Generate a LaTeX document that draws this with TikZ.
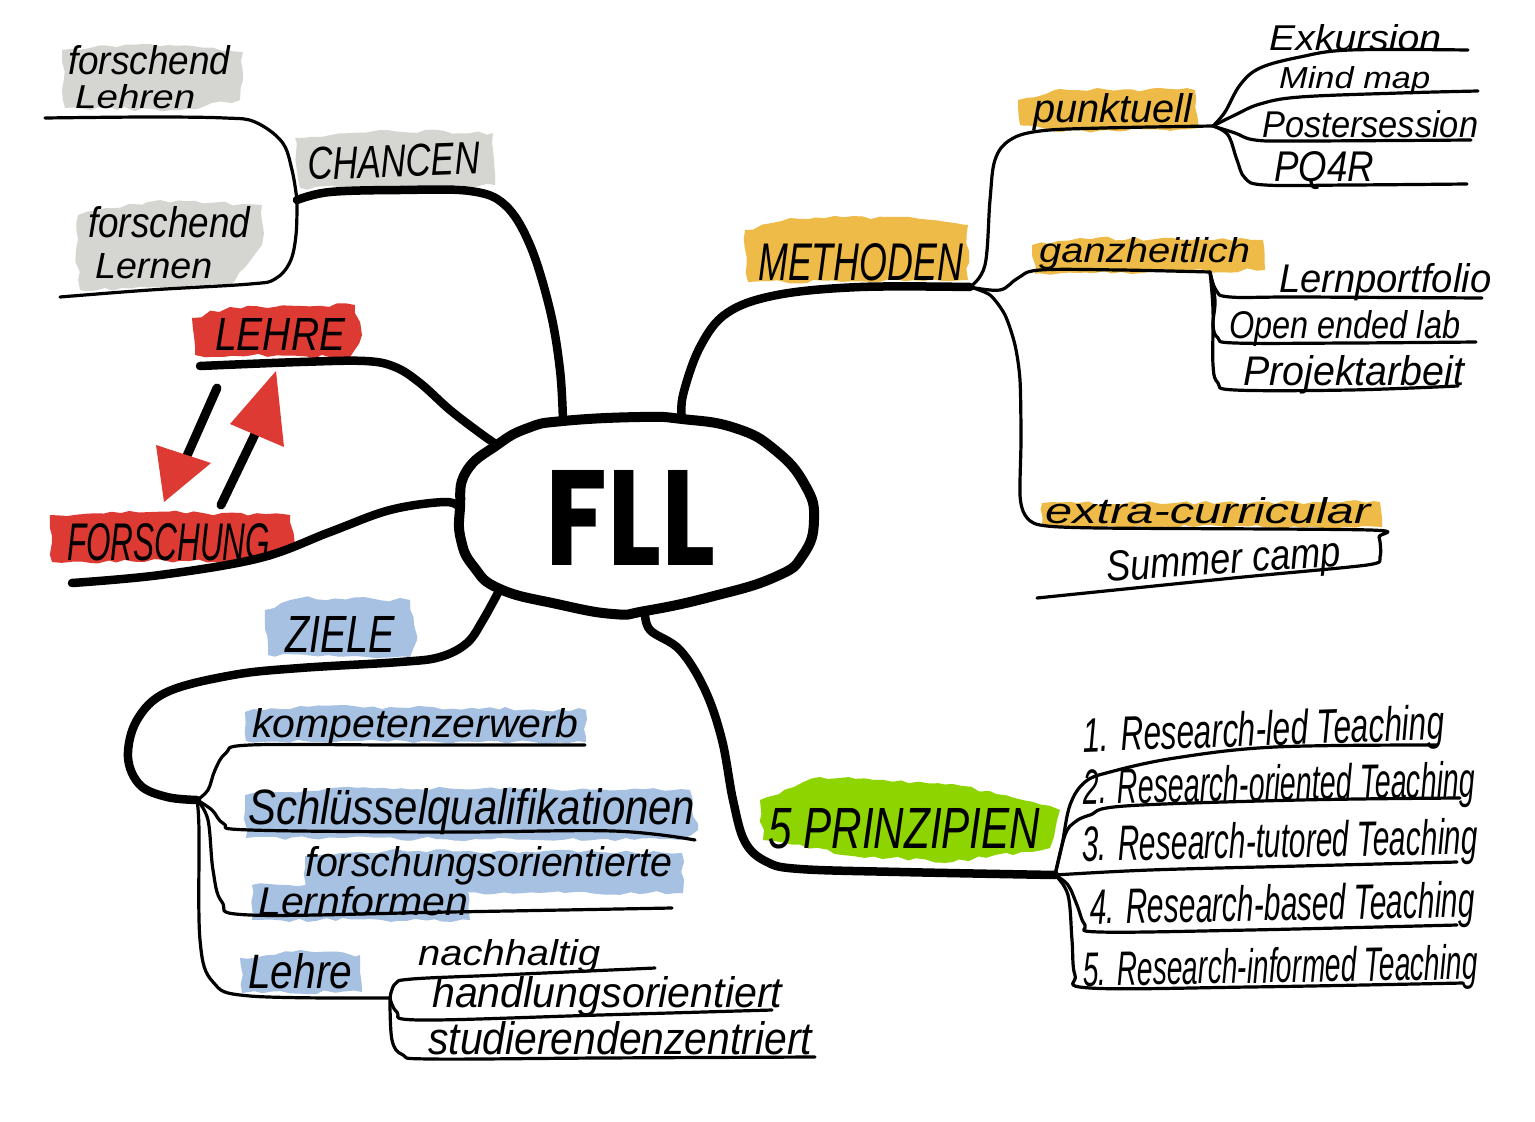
\documentclass[tikz,border=0pt]{standalone}
\usepackage{fontspec}
\usepackage{graphicx}
\setmainfont{Liberation Sans}
\newfontfamily\fllfont{Poppins}
\usetikzlibrary{decorations.pathmorphing}
\definecolor{hlgray}{HTML}{D5D5D1}
\definecolor{hlred}{HTML}{DD3A33}
\definecolor{hlyellow}{HTML}{EEBB48}
\definecolor{hlblue}{HTML}{A6C1E2}
\definecolor{hlgreen}{HTML}{8ED400}
\newcommand\hw[3]{\resizebox{#1pt}{#2pt}{\itshape #3}}
\begin{document}
\begin{tikzpicture}[x=1pt,y=-1pt,
  mainline/.style={line width=8.5pt,line cap=round,line join=round},
  subline/.style={line width=3.2pt,line cap=round,line join=round},
  txt/.style={anchor=base west,inner sep=0pt},
  blobshape/.style={decorate,decoration={random steps,segment length=9pt,amplitude=2pt}},
  ]
\pgfmathsetseed{7}
\useasboundingbox (0,0) rectangle (1535,1122);
\fill[white] (0,0) rectangle (1535,1122);

% ---------- highlight blobs ----------
\fill[hlgray,blobshape] (62,50) -- (150,44) -- (243,52) -- (240,100) -- (180,110) -- (65,108) -- cycle;
\fill[hlgray,blobshape] (295,138) -- (380,130) -- (493,133) -- (495,185) -- (300,188) -- cycle;
\fill[hlgray,blobshape] (78,215) -- (160,200) -- (262,205) -- (262,245) -- (230,285) -- (80,290) -- (76,250) -- cycle;
\fill[hlred,blobshape] (192,318) -- (230,307) -- (355,305) -- (362,335) -- (350,357) -- (195,355) -- cycle;
\fill[hlred,blobshape] (50,515) -- (150,512) -- (290,515) -- (295,545) -- (270,560) -- (52,562) -- cycle;
\fill[hlyellow,blobshape] (745,230) -- (790,218) -- (900,217) -- (968,225) -- (968,280) -- (748,282) -- cycle;
\fill[hlyellow,blobshape] (1018,100) -- (1060,89) -- (1195,90) -- (1199,128) -- (1060,132) -- (1020,125) -- cycle;
\fill[hlyellow,blobshape] (1032,245) -- (1080,238) -- (1263,240) -- (1265,270) -- (1035,274) -- cycle;
\fill[hlyellow,blobshape] (1042,503) -- (1380,502) -- (1382,527) -- (1042,527) -- cycle;
\fill[hlblue,blobshape] (265,610) -- (300,598) -- (410,600) -- (417,640) -- (410,657) -- (268,655) -- cycle;
\fill[hlblue,blobshape] (245,712) -- (300,706) -- (586,710) -- (586,742) -- (246,741) -- cycle;
\fill[hlblue,blobshape] (245,795) -- (330,788) -- (690,790) -- (698,830) -- (680,840) -- (246,838) -- cycle;
\fill[hlblue,blobshape] (305,856) -- (400,850) -- (682,853) -- (683,893) -- (305,893) -- cycle;
\fill[hlblue,blobshape] (252,885) -- (470,882) -- (470,920) -- (252,920) -- cycle;
\fill[hlblue,blobshape] (240,958) -- (300,950) -- (360,955) -- (362,992) -- (242,993) -- cycle;
\fill[hlgreen,blobshape] (760,800) -- (820,777) -- (953,784) -- (1060,810) -- (1050,848) -- (953,862) -- (853,856) -- (763,840) -- cycle;

% ---------- centre ----------
\coordinate (cFo) at (460,508);
\coordinate (cLe) at (497,445);
\coordinate (cCh) at (563,421);
\coordinate (cMe) at (682,419);
\coordinate (cPr) at (645,611);
\coordinate (cZi) at (500,589);
\draw[line width=10pt] plot[smooth cycle,tension=0.8] coordinates {
 (cFo) (466,472) (cLe) (528,428) (cCh) (640,417) (cMe) (735,428) (775,450)
 (805,485) (814,520) (803,555) (775,577) (710,597) (cPr) (613,614) (557,604)
 (cZi) (474,567) (461,540)};
\node[txt] (fll) at (545,565) {\resizebox{170pt}{95pt}{\fllfont\bfseries FLL}};

% ---------- hubs ----------
\coordinate (hubCh) at (297,200);
\coordinate (hubZi) at (197,800);
\coordinate (hubLe) at (390,998);
\coordinate (hubPr) at (1055,875);
\coordinate (hubMe) at (970,287);
\coordinate (hubPu) at (1213,126);
\coordinate (hubGa) at (1210,272);

% ---------- CHANCEN ----------
\draw[mainline] plot[smooth,tension=0.6] coordinates {(cCh) (560,370) (550,310) (530,245) (505,205) (470,191) (400,190) (330,192) (hubCh)};
\draw[subline] plot[smooth,tension=0.6] coordinates {(hubCh) (292,170) (282,142) (255,122) (225,118) (150,117) (45,118)};
\draw[subline] plot[smooth,tension=0.6] coordinates {(hubCh) (296,235) (290,262) (275,279) (250,284) (150,290) (60,297)};
\node[txt] (tFL1) at (68,74) {\hw{162}{29}{forschend}};
\node[txt] (tFL2) at (75,108) {\hw{120}{24}{Lehren}};
\node[txt,rotate=2] (tCh) at (308,180) {\hw{172}{32}{CHANCEN}};
\node[txt] (tFN1) at (88,237) {\hw{162}{31}{forschend}};
\node[txt] (tFN2) at (95,278) {\hw{117}{25}{Lernen}};

% ---------- LEHRE / FORSCHUNG ----------
\draw[mainline] plot[smooth,tension=0.6] coordinates {(cLe) (480,433) (450,410) (420,383) (395,367) (365,361) (300,362) (200,366)};
\draw[mainline] plot[smooth,tension=0.6] coordinates {(cFo) (445,502) (390,510) (330,532) (260,558) (160,575) (72,583)};
\node[txt] (tLe) at (215,350) {\hw{130}{32}{LEHRE}};
\node[txt] (tFo) at (67,560) {\hw{203}{37}{FORSCHUNG}};
\coordinate (a1s) at (217,388);
\coordinate (a1e) at (186,458);
\coordinate (a2s) at (221,505);
\coordinate (a2e) at (258,428);
\draw[line width=9pt,line cap=round] (a1s) -- (a1e);
\draw[line width=9pt,line cap=round] (a2s) -- (a2e);
\fill[hlred] (156,445) -- (211,463) -- (164,502) -- cycle;
\fill[hlred] (276,371) -- (230,424) -- (284,447) -- cycle;

% ---------- ZIELE ----------
\draw[mainline] plot[smooth,tension=0.6] coordinates {(cZi) (483,620) (467,643) (440,657) (400,662) (300,668) (233,675) (167,692) (137,720) (128,757) (140,785) (167,797) (hubZi)};
\draw[subline] plot[smooth,tension=0.6] coordinates {(hubZi) (208,790) (215,770) (226,753) (250,745) (400,745) (585,745)};
\draw[subline] plot[smooth,tension=0.6] coordinates {(hubZi) (212,810) (224,824) (250,830) (450,832) (613,831) (695,840)};
\draw[subline] plot[smooth,tension=0.6] coordinates {(hubZi) (208,820) (213,870) (222,902) (250,915) (450,912) (672,908)};
\draw[subline] plot[smooth,tension=0.6] coordinates {(hubZi) (199,830) (200,940) (213,982) (250,996) (hubLe)};
\draw[subline] plot[smooth,tension=0.6] coordinates {(hubLe) (395,984) (412,979) (500,975) (655,968)};
\draw[subline] plot[smooth,tension=0.6] coordinates {(hubLe) (397,1012) (420,1020) (600,1015) (772,1010)};
\draw[subline] plot[smooth,tension=0.6] coordinates {(hubLe) (392,1040) (403,1055) (430,1059) (600,1058) (815,1057)};
\node[txt] (tZi) at (285,652) {\hw{110}{36}{ZIELE}};
\node[txt] (tKo) at (252,737) {\hw{326}{29}{kompetenzerwerb}};
\node[txt] (tSc) at (248,824) {\hw{447}{36}{Schlüsselqualifikationen}};
\node[txt] (tFs) at (305,876) {\hw{367}{30}{forschungsorientierte}};
\node[txt] (tLf) at (258,915) {\hw{210}{29}{Lernformen}};
\node[txt] (tLh) at (248,988) {\hw{104}{35}{Lehre}};
\node[txt] (tNa) at (418,965) {\hw{182}{26}{nachhaltig}};
\node[txt] (tHa) at (432,1007) {\hw{350}{31}{handlungsorientiert}};
\node[txt] (tSt) at (428,1054) {\hw{384}{33}{studierendenzentriert}};

% ---------- 5 PRINZIPIEN ----------
\draw[mainline] plot[smooth,tension=0.6] coordinates {(cPr) (650,630) (680,650) (705,690) (722,740) (733,800) (745,842) (767,862) (800,869) (900,872) (hubPr)};
\draw[subline] plot[smooth,tension=0.6] coordinates {(hubPr) (1062,845) (1070,805) (1085,782) (1110,772) (1175,758) (1275,747) (1437,745)};
\draw[subline] plot[smooth,tension=0.6] coordinates {(hubPr) (1065,835) (1075,822) (1090,815) (1125,806) (1300,800) (1460,798)};
\draw[subline] plot[smooth,tension=0.6] coordinates {(hubPr) (1150,870) (1300,866) (1457,862)};
\draw[subline] plot[smooth,tension=0.6] coordinates {(hubPr) (1068,885) (1077,905) (1085,925) (1100,932) (1250,930) (1457,925)};
\draw[subline] plot[smooth,tension=0.6] coordinates {(hubPr) (1068,895) (1072,940) (1075,975) (1090,988) (1250,987) (1463,983)};
\node[txt] (tPr) at (768,848) {\hw{272}{40}{5 PRINZIPIEN}};
\node[txt,rotate=2] (tP1) at (1083,752) {\hw{362}{35}{1. Research-led Teaching}};
\node[txt,rotate=1] (tP2) at (1083,804) {\hw{392}{36}{2. Research-oriented Teaching}};
\node[txt,rotate=1] (tP3) at (1082,861) {\hw{396}{36}{3. Research-tutored Teaching}};
\node[txt,rotate=1] (tP4) at (1090,924) {\hw{385}{36}{4. Research-based Teaching}};
\node[txt,rotate=1] (tP5) at (1083,986) {\hw{395}{35}{5. Research-informed Teaching}};

% ---------- METHODEN ----------
\draw[mainline] plot[smooth,tension=0.6] coordinates {(cMe) (683,395) (700,347) (727,313) (777,295) (860,287) (hubMe)};
\draw[subline] plot[smooth,tension=0.6] coordinates {(hubMe) (985,265) (990,200) (995,160) (1010,140) (1040,131) (1103,128) (hubPu)};
\draw[subline] plot[smooth,tension=0.6] coordinates {(hubPu) (1225,112) (1240,85) (1260,68) (1300,57) (1350,50) (1468,50)};
\draw[subline] plot[smooth,tension=0.6] coordinates {(hubPu) (1235,115) (1260,104) (1300,97) (1400,93) (1478,91)};
\draw[subline] plot[smooth,tension=0.6] coordinates {(hubPu) (1235,133) (1255,140) (1300,141) (1471,140)};
\draw[subline] plot[smooth,tension=0.6] coordinates {(hubPu) (1228,135) (1237,160) (1245,178) (1265,185) (1350,185) (1467,184)};
\draw[subline] plot[smooth,tension=0.6] coordinates {(hubMe) (1000,290) (1018,278) (1040,270) (1120,270) (hubGa)};
\draw[subline] plot[smooth,tension=0.6] coordinates {(hubGa) (1216,290) (1230,297) (1300,297) (1482,298)};
\draw[subline] plot[smooth,tension=0.6] coordinates {(hubGa) (1215,300) (1213,325) (1218,338) (1235,343) (1350,343) (1476,342)};
\draw[subline] plot[smooth,tension=0.6] coordinates {(hubGa) (1213,310) (1213,365) (1218,383) (1235,390) (1350,390) (1458,386)};
\draw[subline] plot[smooth,tension=0.45] coordinates {(hubMe) (990,295) (1005,315) (1015,345) (1020,380) (1021,440) (1020,495) (1025,515) (1040,525) (1100,528) (1370,530) (1379,537) (1380,557) (1367,565) (1233,578) (1037,598)};
\node[txt] (tMe) at (758,280) {\hw{205}{37}{METHODEN}};
\node[txt] (tPu) at (1033,122) {\hw{159}{29}{punktuell}};
\node[txt] (tEx) at (1269,50) {\hw{172}{26}{Exkursion}};
\node[txt] (tMi) at (1279,88) {\hw{151}{22}{Mind map}};
\node[txt] (tPo) at (1262,137) {\hw{216}{27}{Postersession}};
\node[txt] (tPq) at (1274,181) {\hw{100}{30}{PQ4R}};
\node[txt] (tGa) at (1039,262) {\hw{211}{25}{ganzheitlich}};
\node[txt] (tLp) at (1279,292) {\hw{212}{29}{Lernportfolio}};
\node[txt] (tOp) at (1229,338) {\hw{231}{28}{Open ended lab}};
\node[txt] (tPj) at (1243,385) {\hw{221}{30}{Projektarbeit}};
\node[txt] (tEc) at (1045,523) {\hw{325}{26}{extra-curricular}};
\node[txt,rotate=4] (tSu) at (1107,582) {\hw{235}{30}{Summer camp}};
\end{tikzpicture}
\end{document}
